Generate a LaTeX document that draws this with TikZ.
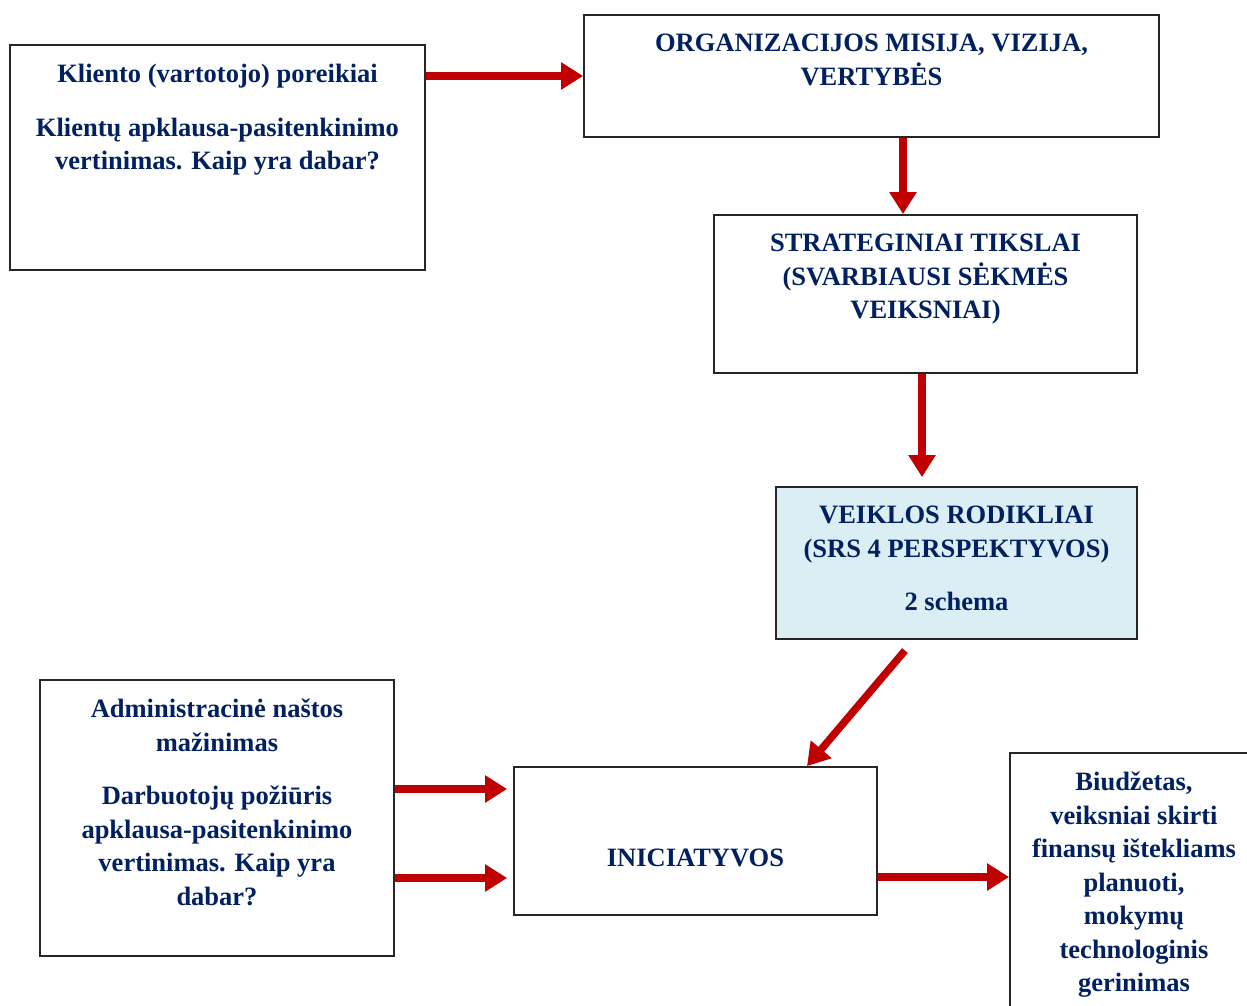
\documentclass[tikz,border=0pt]{standalone}
\usepackage{fontspec}
\setmainfont{Liberation Serif}
\usetikzlibrary{arrows.meta}
\definecolor{navy}{RGB}{0,32,96}
\definecolor{darkred}{RGB}{192,0,0}
\definecolor{paleblue}{HTML}{DAEEF3}
\begin{document}
\begin{tikzpicture}[x=1pt,y=-1pt,
  box/.style={draw=black!85, line width=1.8pt, inner sep=0pt},
  txt/.style={text=navy, font=\fontsize{26.5}{33.5}\selectfont\bfseries,
              align=center, inner sep=0pt, anchor=north},
  arr/.style={draw=darkred, line width=7.5pt,
              -{Triangle[length=22pt,width=26pt]}}]
\useasboundingbox (0,0) rectangle (1247,1006);
\clip (0,0) rectangle (1247,1006);

% boxes
\node[box, minimum width=415pt, minimum height=225pt] (kl)  at (217.5,157.5) {};
\node[box, minimum width=575pt, minimum height=122pt] (org) at (871.5,76) {};
\node[box, minimum width=423pt, minimum height=158pt] (str) at (925.5,294) {};
\node[box, fill=paleblue, minimum width=361pt, minimum height=152pt] (vei) at (956.5,563) {};
\node[box, minimum width=354pt, minimum height=276pt] (adm) at (217,818) {};
\node[box, minimum width=363pt, minimum height=148pt] (ini) at (695.5,841) {};
\node[box, minimum width=248pt, minimum height=267pt] (bud) at (1134,886.5) {};

% texts
\node[txt] (klt) at (217.5,64) {Kliento (vartotojo) poreikiai\\[20pt]
  Klientų apklausa-pasitenkinimo\\ vertinimas. Kaip yra dabar?};
\node[txt] (orgt) at (871.5,34) {ORGANIZACIJOS MISIJA, VIZIJA,\\ VERTYBĖS};
\node[txt] (strt) at (925.5,234) {STRATEGINIAI TIKSLAI\\ (SVARBIAUSI SĖKMĖS\\ VEIKSNIAI)};
\node[txt] (veit) at (956.5,506) {VEIKLOS RODIKLIAI\\ (SRS 4 PERSPEKTYVOS)\\[20pt] 2 schema};
\node[txt] (admt) at (217,699) {Administracinė naštos\\ mažinimas\\[20pt]
  Darbuotojų požiūris\\ apklausa-pasitenkinimo\\ vertinimas. Kaip yra\\ dabar?};
\node[txt] (init) at (695.5,849) {INICIATYVOS};
\node[txt] (budt) at (1134,772) {Biudžetas,\\ veiksniai skirti\\ finansų ištekliams\\
  planuoti,\\ mokymų\\ technologinis\\ gerinimas};

% connectors
\draw[arr] (kl.east |- 0,76) -- (org.west |- 0,76);
\draw[arr] (org.south -| 903,0) -- (str.north -| 903,0);
\draw[arr, shorten >=9pt] (str.south -| 922,0) -- (vei.north -| 922,0);
\draw[arr, shorten <=14pt] (vei.south -| 914,0) -- (ini.north -| 807,0);
\draw[arr, shorten >=6pt] (adm.east |- 0,789) -- (ini.west |- 0,789);
\draw[arr, shorten >=6pt] (adm.east |- 0,878) -- (ini.west |- 0,878);
\draw[arr] (ini.east |- 0,877) -- (bud.west |- 0,877);
\end{tikzpicture}
\end{document}
